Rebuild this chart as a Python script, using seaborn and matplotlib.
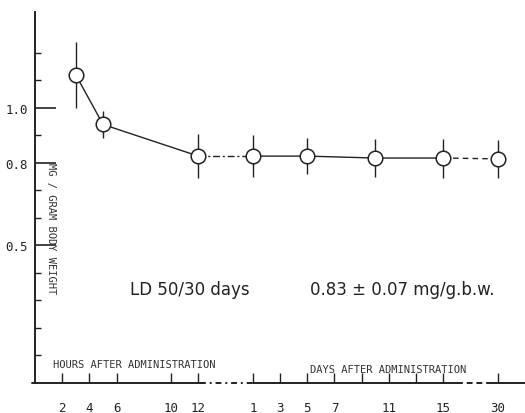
import numpy as np
import pandas as pd
import seaborn as sns
import matplotlib.pyplot as plt
from matplotlib.ticker import FixedLocator

# hours after administration
hour_times = [3, 5, 12]
hour_means = [1.12, 0.94, 0.825]
hour_errs = [0.12, 0.05, 0.08]

# days after administration
day_times = [1, 5, 10, 15, 30]
day_means = [0.825, 0.825, 0.818, 0.818, 0.815]
day_errs = [0.076, 0.065, 0.07, 0.071, 0.068]

hour_ticks = [2, 4, 6, 10, 12]
day_ticks = [1, 3, 5, 7, 9, 11, 13, 15, 30]
day_tick_labels = ['1', '3', '5', '7', '', '11', '', '15', '30']

y_major = [0.5, 0.8, 1.0]
y_minor = [0.1, 0.2, 0.3, 0.4, 0.6, 0.7, 0.9, 1.1, 1.2]


def day_pos(d):
    # broken time axis: days start 4 units after 12 h, day 30 squeezed in after 15
    return 15 + d if d <= 15 else 34


sns.set_style('ticks')
plt.rcParams['font.family'] = ['DejaVu Sans']
mono = 'DejaVu Sans Mono'

hours = pd.DataFrame({'pos': hour_times, 'mean': hour_means, 'err': hour_errs})
days = pd.DataFrame({'pos': [day_pos(d) for d in day_times], 'mean': day_means, 'err': day_errs})

fig = plt.figure(figsize=(5.25, 4.14), dpi=100)
ax = fig.add_axes([35 / 525, 30 / 414, 490 / 525, 371 / 414])

# connecting lines
sns.lineplot(data=hours, x='pos', y='mean', color='#222222', lw=1, ax=ax)
sns.lineplot(data=days.iloc[:4], x='pos', y='mean', color='#222222', lw=1, ax=ax)
ax.plot([hours['pos'].iloc[-1], days['pos'].iloc[0]],
        [hours['mean'].iloc[-1], days['mean'].iloc[0]],
        color='#222222', lw=1, ls=(0, (5, 2, 1.5, 2)))
ax.plot(days['pos'].iloc[3:], days['mean'].iloc[3:], color='#222222', lw=1, ls=(0, (4, 3)))

# error bars
both = pd.concat([hours, days])
ax.vlines(both['pos'], both['mean'] - both['err'], both['mean'] + both['err'],
          color='#222222', lw=1)

sns.scatterplot(data=both, x='pos', y='mean', s=110, marker='o', facecolor='white',
                edgecolor='#222222', linewidth=1.1, zorder=5, ax=ax)

ax.set_xlim(0, 36)
ax.set_ylim(0, 1.349)

# spines
sns.despine(ax=ax)
ax.spines['left'].set_linewidth(1.4)
ax.spines['left'].set_color('#222222')
ax.spines['bottom'].set_visible(False)
seg = dict(color='#222222', lw=1.4, clip_on=False)
ax.plot([-0.2, 12.1], [0, 0], **seg)
ax.plot([12.1, 16], [0, 0], ls=(0, (3, 2, 1, 2)), **seg)
ax.plot([16, 31], [0, 0], **seg)
ax.plot([31, 33.6], [0, 0], ls=(0, (3, 2)), **seg)
ax.plot([33.6, 36], [0, 0], **seg)

# y ticks
ax.yaxis.set_major_locator(FixedLocator(y_major))
ax.yaxis.set_minor_locator(FixedLocator(y_minor))
ax.set_yticklabels([f'{v:.1f}' for v in y_major], family=mono, fontsize=9)
ax.tick_params(axis='y', which='major', direction='in', length=15, width=1.2, pad=5,
               color='#222222', labelcolor='#222222')
ax.tick_params(axis='y', which='minor', direction='in', length=4, width=1.0, color='#222222')

# x ticks
xt = hour_ticks + [day_pos(d) for d in day_ticks]
xl = [str(h) for h in hour_ticks] + day_tick_labels
ax.set_xticks(xt)
ax.set_xticklabels(xl, family=mono, fontsize=9)
ax.tick_params(axis='x', direction='in', length=7, width=1.0, pad=13,
               color='#222222', labelcolor='#222222')

ax.set_xlabel('')
ax.set_ylabel('')

ax.text(1.2, 0.564, 'MG / GRAM BODY WEIGHT', rotation=-90, family=mono, fontsize=7.5,
        ha='center', va='center', color='#333333')
ax.text(1.3, 0.069, 'HOURS AFTER ADMINISTRATION', family=mono, fontsize=7.5,
        ha='left', va='center', color='#333333')
ax.text(20.2, 0.052, 'DAYS AFTER ADMINISTRATION', family=mono, fontsize=7.5,
        ha='left', va='center', color='#333333')
ax.text(7.0, 0.342, 'LD 50/30 days', fontsize=12, ha='left', va='center', color='#222222')
ax.text(20.2, 0.342, '0.83 ± 0.07 mg/g.b.w.', fontsize=12, ha='left', va='center',
        color='#222222')

fig.savefig('out.png', dpi=100, facecolor='white')
